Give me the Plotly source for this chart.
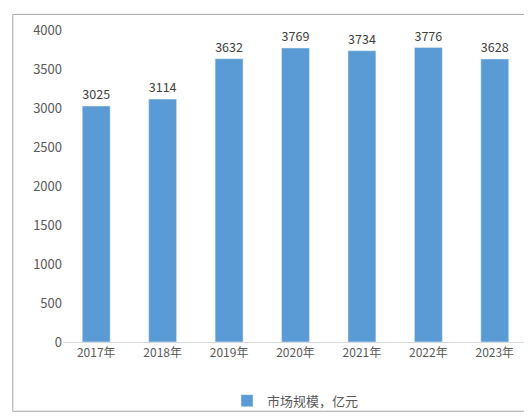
import plotly.graph_objects as go

years = ["2017年", "2018年", "2019年", "2020年", "2021年", "2022年", "2023年"]
values = [3025, 3114, 3632, 3769, 3734, 3776, 3628]
series_name = "市场规模，亿元"

fig = go.Figure(go.Bar(
    x=years, y=values, name=series_name, marker_color="#5B9BD5",
    text=values, textposition="outside",
    textfont=dict(size=13, color="#404040"), cliponaxis=False,
))
fig.update_layout(
    width=532, height=420,
    margin=dict(l=55, r=12, t=20, b=77),
    paper_bgcolor="white", plot_bgcolor="white",
    font=dict(family="Noto Sans CJK SC, sans-serif", color="#595959", size=12),
    bargap=0.58,
    showlegend=True,
    legend=dict(orientation="h", x=0.5, xanchor="center", y=-0.14, yanchor="top",
                bgcolor="rgba(0,0,0,0)", font=dict(size=13, color="#595959")),
    xaxis=dict(showline=True, linecolor="#D9D9D9", ticks="", tickfont=dict(size=12)),
    yaxis=dict(range=[0, 4000], dtick=500, showgrid=False, zeroline=False,
               showline=False, tickfont=dict(size=13)),
    shapes=[dict(type="rect", xref="paper", yref="paper", layer="above",
                 x0=-0.108, x1=1.015, y0=-0.222, y1=1.050,
                 line=dict(color="#A6A6A6", width=1))],
)
fig.write_html("out.html")
